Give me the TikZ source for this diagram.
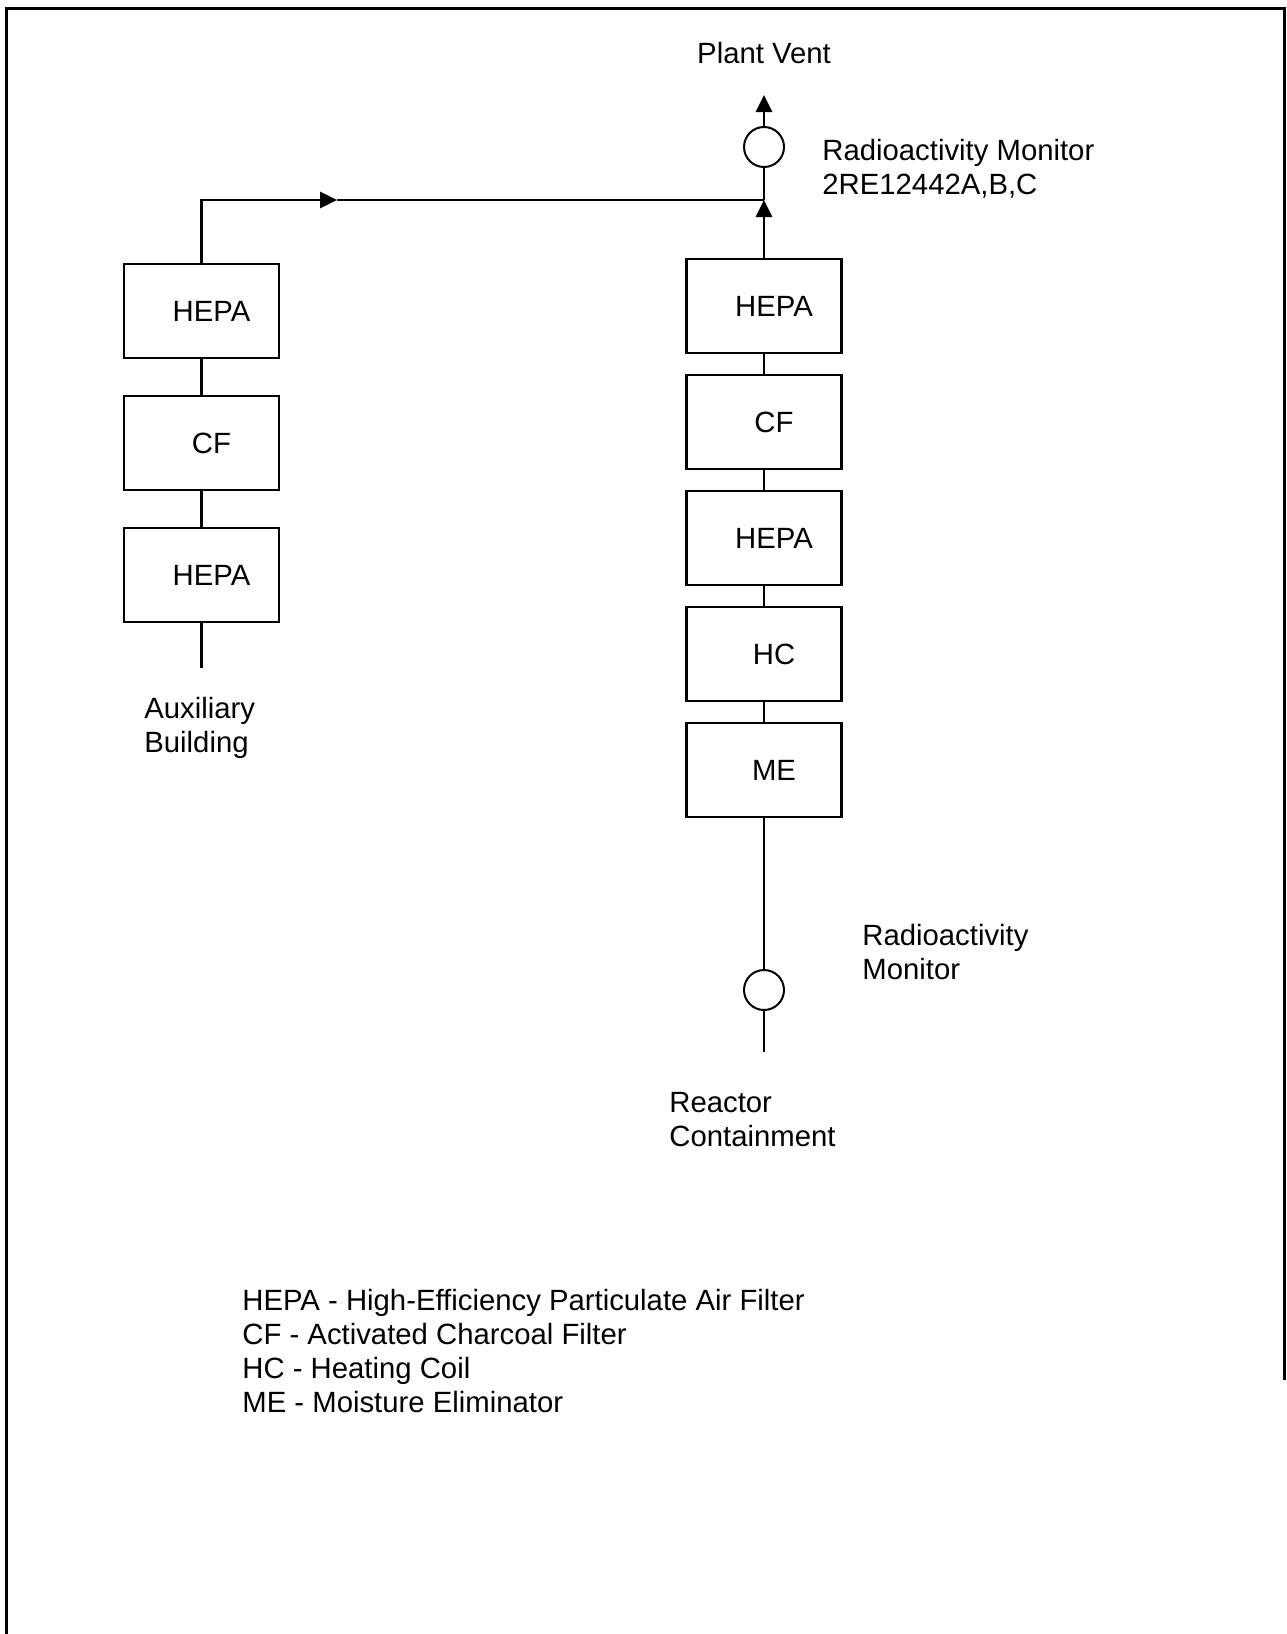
\documentclass[tikz,border=0pt]{standalone}
\usepackage{fontspec}
\setmainfont{Liberation Sans}
\usetikzlibrary{arrows.meta,positioning}
\tikzset{
  filterbox/.style={draw,line width=1.2pt,minimum width=77.5pt,minimum height=47pt,inner sep=0pt,
    execute at begin node={\hspace*{10pt}}},
  monitorcircle/.style={draw,circle,line width=1pt,minimum size=20pt,inner sep=0pt},
  flowline/.style={line width=1.4pt},
  flowarrow/.style={flowline,-{Triangle[length=8.5pt,width=8pt]}},
  labeltext/.style={align=left,inner sep=0pt}
}
\begin{document}
\begin{tikzpicture}[x=0.5pt,y=-0.5pt,node distance=17.8pt,font=\fontsize{14.65pt}{17pt}\selectfont]
  \useasboundingbox (0,0) rectangle (1286,1634);
  \draw[line width=1.5pt] (6,1634) -- (6,8) -- (1284,8) -- (1284,1380);
  % auxiliary building train
  \node[filterbox] (auxhepa1) at (201.5,311) {HEPA};
  \node[filterbox,below=of auxhepa1] (auxcf) {CF};
  \node[filterbox,below=of auxcf] (auxhepa2) {HEPA};
  \coordinate (auxin) at (201.5,668);
  % containment train
  \node[filterbox] (conthepa1) at (764,306) {HEPA};
  \node[filterbox,below=9.8pt of conthepa1] (contcf) {CF};
  \node[filterbox,below=9.8pt of contcf] (conthepa2) {HEPA};
  \node[filterbox,below=9.8pt of conthepa2] (conthc) {HC};
  \node[filterbox,below=9.8pt of conthc] (contme) {ME};
  \node[monitorcircle] (ventmon) at (764,147) {};
  \node[monitorcircle] (contmon) at (764,990) {};
  \coordinate (junction) at (764,200);
  \coordinate (auxarrow) at (337,200);
  \coordinate (venttip) at (764,95);
  \coordinate (contin) at (764,1052);
  % connectors
  \draw[flowline] (auxin) -- (auxhepa2);
  \draw[flowline] (auxhepa2) -- (auxcf);
  \draw[flowline] (auxcf) -- (auxhepa1);
  \draw[flowarrow] (auxhepa1) |- (auxarrow);
  \draw[flowline] (auxarrow) -- (junction);
  \draw[flowline] (contin) -- (contmon);
  \draw[flowline] (contmon) -- (contme);
  \draw[flowline] (contme) -- (conthc);
  \draw[flowline] (conthc) -- (conthepa2);
  \draw[flowline] (conthepa2) -- (contcf);
  \draw[flowline] (contcf) -- (conthepa1);
  \draw[flowarrow] (conthepa1) -- (junction);
  \draw[flowline] (junction) -- (ventmon);
  \draw[flowarrow] (ventmon) -- (venttip);
  % labels
  \node[anchor=base] (plantvent) at (764,63) {Plant Vent};
  \node[labeltext,anchor=north west] (ventmonlabel) at (822,139) {Radioactivity Monitor\\2RE12442A,B,C};
  \node[labeltext,anchor=north west] (contmonlabel) at (862,924) {Radioactivity\\Monitor};
  \node[labeltext,anchor=north west] (auxlabel) at (144,697) {Auxiliary\\Building};
  \node[labeltext,anchor=north west] (contlabel) at (669,1092) {Reactor\\Containment};
  \node[labeltext,anchor=north west] (legend) at (242,1289) {HEPA - High-Efficiency Particulate Air Filter\\CF - Activated Charcoal Filter\\HC - Heating Coil\\ME - Moisture Eliminator};
\end{tikzpicture}
\end{document}
